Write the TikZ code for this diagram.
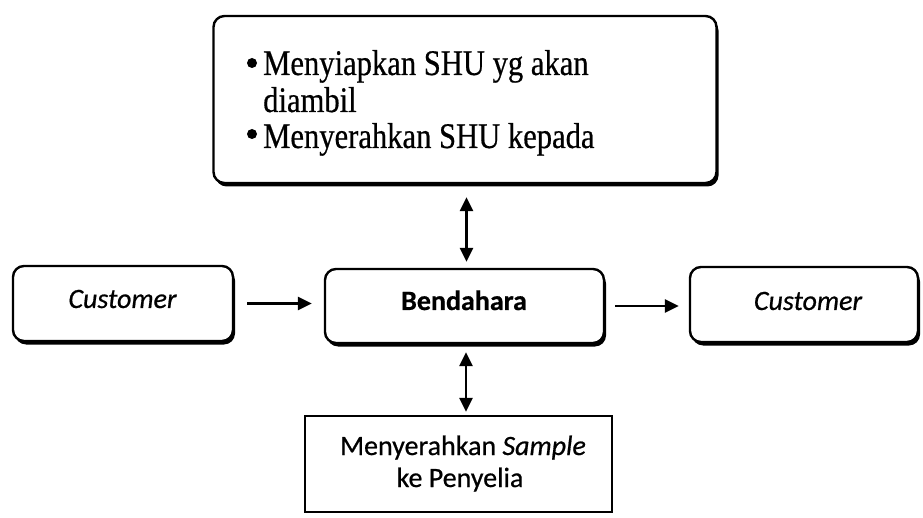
\documentclass[tikz,border=0pt]{standalone}
\usepackage{fontspec}
\setmainfont{Liberation Serif}
\newfontfamily\calibri[FakeBold=0.6]{Carlito}
\newfontfamily\timesnarrow[FakeStretch=0.85,FakeBold=0.5]{Liberation Serif}
\usetikzlibrary{shadows,arrows.meta}

\tikzset{
  rbox/.style={draw, line width=2.4pt, rounded corners=11pt, fill=white,
    inner sep=0pt,
    general shadow={fill=black, shadow xshift=2pt, shadow yshift=-3.5pt}},
  sbox/.style={draw, line width=2.2pt, fill=white, inner sep=0pt},
  lbl/.style={inner sep=0pt, font=\calibri\fontsize{28}{32}\selectfont},
  item/.style={inner sep=0pt, anchor=base west, font=\timesnarrow\fontsize{36}{40}\selectfont},
  dot/.style={circle, fill=black, inner sep=0pt, minimum size=10pt},
  flow/.style={line width=2.6pt, -{Triangle[length=14pt,width=13pt]}},
  both/.style={line width=2.6pt, {Triangle[length=14pt,width=13pt]}-{Triangle[length=14pt,width=13pt]}}
}

\begin{document}
\begin{tikzpicture}[x=1pt,y=-1pt]
  \useasboundingbox[fill=white] (0,0) rectangle (923,518);

  % boxes
  \node[rbox, minimum width=503pt, minimum height=167pt] (top) at (465,99.5) {};
  \node[rbox, minimum width=220pt, minimum height=75pt] (cin) at (123,303.5) {};
  \node[rbox, minimum width=279pt, minimum height=74pt] (bend) at (464.5,306) {};
  \node[rbox, minimum width=228pt, minimum height=75pt] (cout) at (804,304.5) {};
  \node[sbox, minimum width=307pt, minimum height=96pt] (low) at (458.5,464) {};

  % bullet list in the upper box
  \node[item] (it1) at (263,75) {Menyiapkan SHU yg akan};
  \node[item] (it1b) at (263,112) {diambil};
  \node[item] (it2) at (263,148) {Menyerahkan SHU kepada};
  \node[dot] (d1) at (252,63) {};
  \node[dot] (d2) at (252,134) {};

  % box labels
  \node[lbl, anchor=base] (cintext) at (122.5,308) {\itshape Customer};
  \node[lbl, anchor=base] (bendtext) at (464,310) {\bfseries Bendahara};
  \node[lbl, anchor=base] (couttext) at (808,310) {\itshape Customer};
  \node[lbl, anchor=base] (lowtext1) at (463,455) {Menyerahkan \textit{Sample}};
  \node[lbl, anchor=base] (lowtext2) at (460,487) {ke Penyelia};

  % connectors
  \draw[flow, shorten <=13pt, shorten >=12pt] (cin.east) -- (bend.west |- cin.east);
  \draw[flow, shorten <=10pt, shorten >=10pt] (bend.east) -- (cout.west |- bend.east);
  \draw[both, shorten <=6pt, shorten >=13pt] ([xshift=2pt]bend.north) -- ([xshift=2pt]bend.north |- top.south);
  \draw[both, shorten <=8pt, shorten >=3pt] ([xshift=1.5pt]bend.south) -- ([xshift=1.5pt]bend.south |- low.north);
\end{tikzpicture}
\end{document}
